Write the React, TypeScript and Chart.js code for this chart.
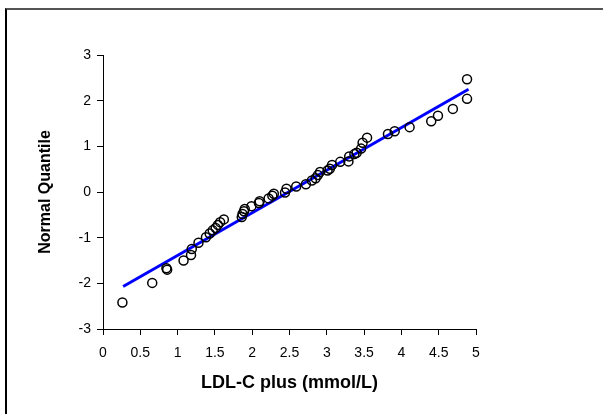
import React, { useEffect, useRef } from "react";
import { Chart, registerables } from "chart.js";

Chart.register(...registerables);

// LDL-C plus values (mmol/L) and their normal quantiles
const ldlValues = [
  0.26, 0.66, 0.85, 0.86, 1.08, 1.18, 1.19, 1.28, 1.38, 1.43, 1.47, 1.51, 1.54,
  1.57, 1.62, 1.86, 1.87, 1.89, 1.9, 1.99, 2.09, 2.1, 2.22, 2.27, 2.29, 2.44,
  2.46, 2.59, 2.72, 2.8, 2.85, 2.88, 2.91, 3.01, 3.04, 3.07, 3.18, 3.29, 3.3,
  3.37, 3.4, 3.46, 3.48, 3.54, 3.82, 3.91, 4.11, 4.4, 4.49, 4.69, 4.88, 4.88,
];
const normalQuantiles = [
  -2.42, -1.99, -1.67, -1.7, -1.5, -1.38, -1.25, -1.11, -0.99, -0.91, -0.84,
  -0.79, -0.72, -0.66, -0.6, -0.55, -0.48, -0.42, -0.37, -0.31, -0.24, -0.2,
  -0.14, -0.08, -0.04, -0.01, 0.07, 0.12, 0.17, 0.25, 0.3, 0.37, 0.44, 0.47,
  0.51, 0.59, 0.66, 0.67, 0.78, 0.83, 0.86, 0.95, 1.08, 1.19, 1.27, 1.33, 1.42,
  1.55, 1.67, 1.82, 2.04, 2.47,
];

// reference (fitted) line end points
const fitLineX = [0.27, 4.9];
const fitLineY = [-2.07, 2.25];

const xTicks = [0, 0.5, 1, 1.5, 2, 2.5, 3, 3.5, 4, 4.5, 5];
const yTicks = [-3, -2, -1, 0, 1, 2, 3];

const xTitle = "LDL-C plus (mmol/L)";
const yTitle = "Normal Quantile";

const W = 603;
const H = 414;

export default function App() {
  const ref = useRef<HTMLCanvasElement | null>(null);

  useEffect(() => {
    const canvas = ref.current;
    if (!canvas) return;
    const font = "'Liberation Sans', Arial, sans-serif";
    const chart = new Chart(canvas, {
      type: "scatter",
      data: {
        datasets: [
          {
            label: "data",
            data: ldlValues.map((x, i) => ({ x, y: normalQuantiles[i] })),
            pointStyle: "circle",
            pointRadius: 4.5,
            pointHoverRadius: 4.5,
            borderWidth: 1.5,
            borderColor: "#000000",
            backgroundColor: "rgba(0,0,0,0)",
            showLine: false,
          },
          {
            label: "fit",
            data: fitLineX.map((x, i) => ({ x, y: fitLineY[i] })),
            showLine: true,
            borderColor: "#0000ff",
            borderWidth: 3,
            pointRadius: 0,
            pointHoverRadius: 0,
            fill: false,
          },
        ],
      },
      options: {
        animation: false,
        responsive: false,
        maintainAspectRatio: false,
        devicePixelRatio: 1,
        layout: { padding: { top: 55, right: 127, bottom: 0, left: 0 } },
        plugins: {
          legend: { display: false },
          tooltip: { enabled: false },
        },
        scales: {
          x: {
            type: "linear",
            position: "bottom",
            min: 0,
            max: 5,
            afterBuildTicks: (s: any) => {
              s.ticks = xTicks.map((v) => ({ value: v }));
            },
            afterFit: (s: any) => {
              s.height = 85;
            },
            grid: {
              display: true,
              drawOnChartArea: false,
              drawTicks: true,
              tickLength: 6,
              color: "#000000",
              lineWidth: 1,
            },
            border: { display: true, color: "#000000", width: 1 },
            ticks: {
              color: "#000000",
              padding: 10,
              maxRotation: 0,
              autoSkip: false,
              font: { family: font, size: 14 },
              callback: (v: any) => String(v),
            },
            title: {
              display: true,
              text: xTitle,
              color: "#000000",
              font: { family: font, size: 18, weight: "bold" },
              padding: { top: 0, bottom: 20 },
            },
          },
          y: {
            type: "linear",
            position: "left",
            min: -3,
            max: 3,
            afterBuildTicks: (s: any) => {
              s.ticks = yTicks.map((v) => ({ value: v }));
            },
            afterFit: (s: any) => {
              s.width = 103;
            },
            grid: {
              display: true,
              drawOnChartArea: false,
              drawTicks: true,
              tickLength: 6,
              color: "#000000",
              lineWidth: 1,
            },
            border: { display: true, color: "#000000", width: 1 },
            ticks: {
              color: "#000000",
              padding: 6,
              autoSkip: false,
              font: { family: font, size: 14 },
              callback: (v: any) => String(v),
            },
            title: {
              display: true,
              text: yTitle,
              color: "#000000",
              font: { family: font, size: 16, weight: "bold" },
              padding: { top: 36, bottom: 0 },
            },
          },
        },
      },
    });
    return () => chart.destroy();
  }, []);

  return (
    <div
      style={{
        position: "fixed",
        left: 0,
        top: 0,
        width: W,
        height: H,
        background: "#ffffff",
        overflow: "hidden",
      }}
    >
      <canvas
        ref={ref}
        width={W}
        height={H}
        style={{ position: "absolute", left: 0, top: 0, width: W, height: H }}
      />
      <div
        style={{
          position: "absolute",
          left: 5,
          top: 8,
          width: 700,
          height: 500,
          borderTop: "2px solid #555555",
          borderLeft: "2px solid #000000",
          boxSizing: "border-box",
          pointerEvents: "none",
        }}
      />
    </div>
  );
}
